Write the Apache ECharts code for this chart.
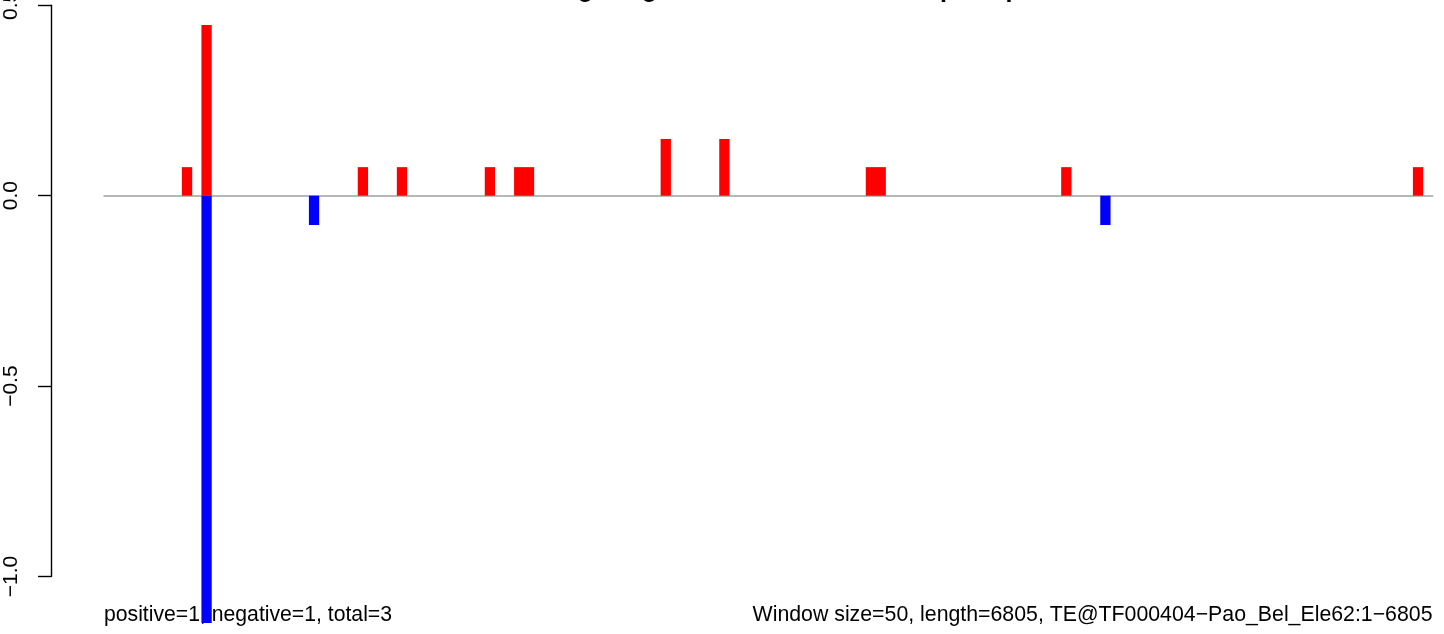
<!DOCTYPE html>
<html>
<head>
<meta charset="utf-8">
<script src="https://cdn.jsdelivr.net/npm/echarts@6/dist/echarts.min.js"></script>
<style>
html,body{margin:0;padding:0;background:#fff;}
#chart{width:1444px;height:634px;}
</style>
</head>
<body>
<div id="chart"></div>
<script>
// ---- data ----
const windowCount = 136;              // 6805 / 50 windows
const positiveWindows = [8, 10, 26, 30, 39, 42, 43, 57, 63, 78, 79, 98, 134];
const positiveValues  = [0.075, 0.448, 0.075, 0.075, 0.075, 0.075, 0.075, 0.149, 0.149, 0.075, 0.075, 0.075, 0.075];
const negativeWindows = [10, 21, 102];
const negativeValues  = [-1.122, -0.077, -0.077];
const yTicks = [-1.0, -0.5, 0.0, 0.5];
const titleText = 'Strong_MagnitudeScore_Window_upsample';
const leftNote = 'positive=1, negative=1, total=3';
const rightNote = 'Window size=50, length=6805, TE@TF000404\u2212Pao_Bel_Ele62:1\u22126805';

// ---- build series ----
const categories = [];
for (let i = 0; i < windowCount; i++) categories.push(String(i));
const posData = new Array(windowCount).fill(null);
positiveWindows.forEach((w, k) => { posData[w] = positiveValues[k]; });
const negData = new Array(windowCount).fill(null);
negativeWindows.forEach((w, k) => { negData[w] = negativeValues[k]; });

const FONT = 'Liberation Sans, Arial, Helvetica, sans-serif';
const chart = echarts.init(document.getElementById('chart'), null, {renderer: 'canvas'});
chart.setOption({
  animation: false,
  backgroundColor: '#ffffff',
  grid: {left: 104, right: 11.3, top: 5.3, height: 571.2, containLabel: false, outerBoundsMode: 'none'},
  xAxis: {
    type: 'category',
    data: categories,
    boundaryGap: true,
    axisLine: {show: true, onZero: true, lineStyle: {color: '#a0a0a0', width: 1.5}},
    axisTick: {show: false},
    axisLabel: {show: false},
    splitLine: {show: false}
  },
  yAxis: {
    type: 'value',
    min: yTicks[0],
    max: yTicks[yTicks.length - 1],
    interval: 0.5,
    offset: 53,
    axisLine: {show: true, lineStyle: {color: '#000', width: 1.4}},
    axisTick: {show: true, length: 13, lineStyle: {color: '#000', width: 1.4}},
    axisLabel: {
      show: true, rotate: 90, margin: 29,
      fontFamily: FONT, fontSize: 21, color: '#000',
      formatter: v => (v < 0 ? '\u2212' : '') + Math.abs(v).toFixed(1)
    },
    splitLine: {show: false}
  },
  series: [
    {
      type: 'bar', name: 'positive', data: posData,
      barWidth: 10.3, barGap: '-100%', clip: false,
      itemStyle: {color: '#ff0000'}
    },
    {
      type: 'bar', name: 'negative', data: negData,
      barWidth: 10.3, barGap: '-100%', clip: false,
      itemStyle: {color: '#0000ff'}
    }
  ],
  graphic: [
    {type: 'text', x: 777, y: -10, silent: true,
     style: {text: titleText, font: 'bold 25px ' + FONT, fill: '#000', align: 'center', verticalAlign: 'middle'}},
    {type: 'text', x: 104, y: 614.9, silent: true,
     style: {text: leftNote, font: '21.2px ' + FONT, fill: '#000', align: 'left', verticalAlign: 'middle'}},
    {type: 'text', x: 1432.5, y: 614.9, silent: true,
     style: {text: rightNote, font: '21.3px ' + FONT, fill: '#000', align: 'right', verticalAlign: 'middle'}}
  ]
});
</script>
</body>
</html>
